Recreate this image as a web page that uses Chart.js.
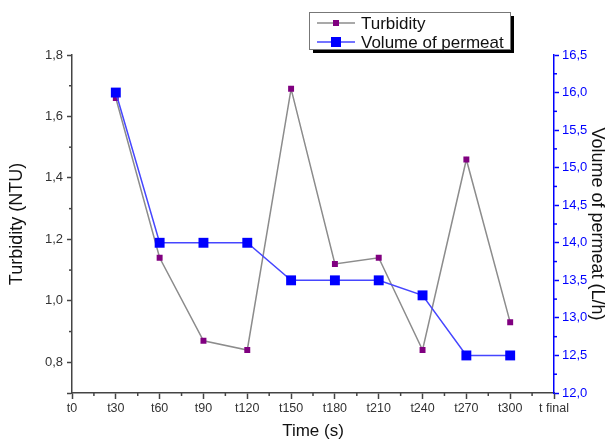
<!DOCTYPE html>
<html>
<head>
<meta charset="utf-8">
<script src="https://cdn.jsdelivr.net/npm/chart.js@4.4.1/dist/chart.umd.min.js"></script>
<style>
  html, body { margin: 0; padding: 0; background: #fff; }
</style>
</head>
<body>
<canvas id="myChart" width="616" height="446"></canvas>
<script>
// data
const labels = ['t0', 't30', 't60', 't90', 't120', 't150', 't180', 't210', 't240', 't270', 't300', 't final'];
const turbidity = [null, 1.66, 1.14, 0.87, 0.84, 1.69, 1.12, 1.14, 0.84, 1.46, 0.93, null];
const permeat = [null, 16.0, 14.0, 14.0, 14.0, 13.5, 13.5, 13.5, 13.3, 12.5, 12.5, null];
const turbTicks = [0.7, 0.8, 1.0, 1.2, 1.4, 1.6, 1.8];
const permTicks = [12.0, 12.5, 13.0, 13.5, 14.0, 14.5, 15.0, 15.5, 16.0, 16.5];

const FONT = 'Arial, "Liberation Sans", sans-serif';
const comma = (v) => v.toFixed(1).replace('.', ',');

// short ticks between the labelled ones
const minorTicks = {
  id: 'minorTicks',
  afterDraw(chart) {
    const { ctx, chartArea, scales } = chart;
    const seg = (x1, y1, x2, y2) => {
      ctx.beginPath();
      ctx.moveTo(x1, y1);
      ctx.lineTo(x2, y2);
      ctx.stroke();
    };
    ctx.save();
    ctx.lineWidth = 1.5;
    ctx.strokeStyle = '#444';
    for (let i = 0; i < labels.length - 1; i++) {
      const px = (scales.x.getPixelForValue(i) + scales.x.getPixelForValue(i + 1)) / 2;
      seg(px, chartArea.bottom, px, chartArea.bottom + 3);
    }
    for (let i = 1; i < turbTicks.length - 1; i++) {
      const py = scales.y.getPixelForValue((turbTicks[i] + turbTicks[i + 1]) / 2);
      seg(chartArea.left, py, chartArea.left - 3, py);
    }
    ctx.strokeStyle = '#0000ff';
    for (let i = 0; i < permTicks.length - 1; i++) {
      const py = scales.y1.getPixelForValue((permTicks[i] + permTicks[i + 1]) / 2);
      seg(chartArea.right, py, chartArea.right + 3, py);
    }
    ctx.restore();
  },
};

// boxed legend with a drop shadow
const boxLegend = {
  id: 'boxLegend',
  afterDraw(chart) {
    const { ctx } = chart;
    const x = 309, y = 12, w = 201, h = 37;
    ctx.save();
    ctx.fillStyle = '#000';
    ctx.fillRect(x + 4, y + 4, w, h);
    ctx.fillStyle = '#fff';
    ctx.fillRect(x, y, w, h);
    ctx.strokeStyle = '#777';
    ctx.lineWidth = 1;
    ctx.strokeRect(x + 0.5, y + 0.5, w, h);
    chart.data.datasets.forEach((ds, i) => {
      const cy = y + 11 + i * 19;
      ctx.strokeStyle = ds.borderColor;
      ctx.lineWidth = 1.5;
      ctx.beginPath();
      ctx.moveTo(x + 8, cy);
      ctx.lineTo(x + 46, cy);
      ctx.stroke();
      const s = ds.legendSize;
      ctx.fillStyle = ds.pointBackgroundColor;
      ctx.fillRect(x + 27 - s / 2, cy - s / 2, s, s);
      ctx.fillStyle = '#111';
      ctx.font = '17px ' + FONT;
      ctx.textBaseline = 'middle';
      ctx.fillText(ds.label, x + 52, cy + 1);
    });
    ctx.restore();
  },
};

const data = {
  labels,
  datasets: [{
    label: 'Turbidity',
    data: turbidity,
    yAxisID: 'y',
    borderColor: '#8c8c8c',
    borderWidth: 1.5,
    pointStyle: 'rect',
    pointRadius: 4.2,
    pointBackgroundColor: '#800080',
    pointBorderColor: '#800080',
    pointBorderWidth: 0,
    legendSize: 6,
    order: 2,
  }, {
    label: 'Volume of permeat',
    data: permeat,
    yAxisID: 'y1',
    borderColor: '#4646ff',
    borderWidth: 1.5,
    pointStyle: 'rect',
    pointRadius: 7,
    pointBackgroundColor: '#0000ff',
    pointBorderColor: '#0000ff',
    pointBorderWidth: 0,
    legendSize: 10,
    order: 1,
  }],
};

const config = {
  type: 'line',
  data,
  options: {
    responsive: false,
    animation: false,
    devicePixelRatio: 1,
    layout: { padding: { top: 55 } },
    plugins: {
      legend: { display: false },
      tooltip: { enabled: false },
    },
    scales: {
      x: {
        type: 'category',
        offset: false,
        afterFit: (s) => { s.height = 53; },
        grid: { drawOnChartArea: false, tickLength: 6, tickColor: '#444', tickWidth: 1.5 },
        border: { color: '#444', width: 1.5 },
        ticks: { color: '#333', font: { family: FONT, size: 12.5 }, padding: 2, maxRotation: 0, autoSkip: false },
        title: { display: true, text: 'Time (s)', color: '#111', font: { family: FONT, size: 17 }, padding: { top: 0 } },
      },
      y: {
        position: 'left',
        min: 0.7,
        max: 1.8,
        afterFit: (s) => { s.width = 72; },
        afterBuildTicks: (s) => { s.ticks = turbTicks.map((v) => ({ value: v })); },
        grid: { drawOnChartArea: false, tickLength: 5, tickColor: '#444', tickWidth: 1.5 },
        border: { color: '#444', width: 1.5 },
        ticks: {
          color: '#333',
          font: { family: FONT, size: 13 },
          padding: 4,
          callback: (v) => (v < 0.75 ? '' : comma(v)),
        },
        title: { display: true, text: 'Turbidity (NTU)', color: '#111', font: { family: FONT, size: 18 }, padding: { top: 6 } },
      },
      y1: {
        position: 'right',
        min: 12,
        max: 16.5,
        afterFit: (s) => { s.width = 62; },
        afterBuildTicks: (s) => { s.ticks = permTicks.map((v) => ({ value: v })); },
        grid: { drawOnChartArea: false, tickLength: 5, tickColor: '#0000ff', tickWidth: 1.5 },
        border: { color: '#0000ff', width: 1.5 },
        ticks: { color: '#0000ff', font: { family: FONT, size: 13 }, padding: 3, callback: (v) => comma(v) },
        title: { display: true, text: 'Volume of permeat (L/h)', color: '#111', font: { family: FONT, size: 18 }, padding: { top: 8 } },
      },
    },
  },
  plugins: [minorTicks, boxLegend],
};

const myChart = new Chart(document.querySelector('#myChart'), config);
</script>
</body>
</html>
